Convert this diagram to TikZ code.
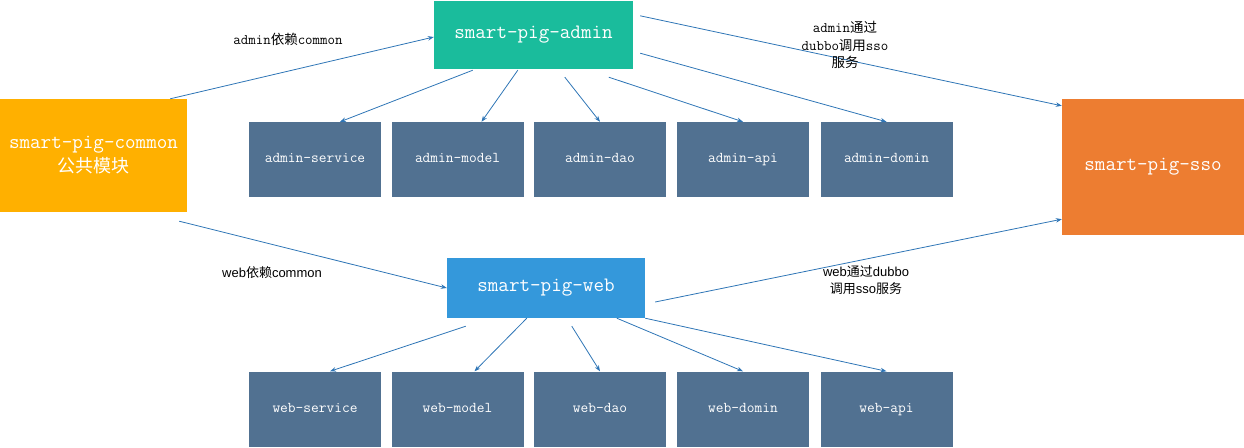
\documentclass[tikz,border=0pt]{standalone}
\usepackage{fontspec}
\setsansfont{Liberation Sans}
\newfontfamily\cjk{Noto Sans CJK SC}
\usetikzlibrary{arrows.meta}

\definecolor{admingreen}{RGB}{26,188,156}
\definecolor{commonorange}{RGB}{255,176,0}
\definecolor{ssoorange}{RGB}{237,125,49}
\definecolor{webblue}{RGB}{52,152,219}
\definecolor{partblue}{RGB}{81,113,145}
\definecolor{linkblue}{RGB}{46,117,182}

\begin{document}
\begin{tikzpicture}[x=1pt,y=-1pt,
  box/.style={text=white, inner sep=0pt, align=center, font=\ttfamily\fontsize{20.5}{24}\selectfont},
  part/.style={text=white, inner sep=0pt, fill=partblue, minimum width=132pt, minimum height=75pt,
    text height=0.75em, text depth=0.15em, font=\ttfamily\fontsize{15}{17}\selectfont},
  link/.style={draw=linkblue, line width=0.8pt, -{Stealth[length=6pt,width=4.5pt]}},
  note/.style={inner sep=0pt, align=center, font=\ttfamily\fontsize{14.5}{17.5}\selectfont}]

  \useasboundingbox (0,0) rectangle (1244,447);

  % Main modules
  \node[box, fill=admingreen, minimum width=199pt, minimum height=68pt] (admin) at (533.5,35) {smart-pig-admin};
  \node[box, fill=commonorange, minimum width=187pt, minimum height=113pt] (common) at (93.5,155.5) {smart-pig-common\\{\cjk\fontsize{18}{24}\selectfont 公共模块}};
  \node[box, fill=ssoorange, minimum width=182pt, minimum height=136pt] (sso) at (1153,167) {smart-pig-sso};
  \node[box, fill=webblue, minimum width=198pt, minimum height=60pt] (web) at (546,288) {smart-pig-web};

  % Sub modules
  \foreach \name/\x in {service/315, model/457.5, dao/600, api/743, domin/886.5}
    \node[part] (admin-\name) at (\x,159.5) {admin-\name};
  \foreach \name/\x in {service/315, model/457.5, dao/600, domin/743, api/886.5}
    \node[part] (web-\name) at (\x,409) {web-\name};

  % Dependencies between main modules
  \draw[link] ([shift={(-17,0)}]common.north east) -- ([shift={(0,2)}]admin.west);
  \draw[link] ([shift={(-8,9)}]common.south east) -- (web.west);
  \draw[link] ([shift={(7,15)}]admin.north east) -- ([shift={(0,7)}]sso.north west);
  \draw[link] ([shift={(10,14)}]web.east) -- ([shift={(0,-16)}]sso.south west);

  % admin to its parts
  \draw[link] ([shift={(39,1)}]admin.south west) -- ([shift={(25,0)}]admin-service.north);
  \draw[link] ([shift={(84,1)}]admin.south west) -- ([shift={(24,0)}]admin-model.north);
  \draw[link] ([shift={(131,8)}]admin.south west) -- (admin-dao.north);
  \draw[link] ([shift={(175,8)}]admin.south west) -- (admin-api.north);
  \draw[link] ([shift={(7,-16)}]admin.south east) -- (admin-domin.north);

  % web to its parts
  \draw[link] ([shift={(19,8)}]web.south west) -- ([shift={(15,0)}]web-service.north);
  \draw[link] ([shift={(80,0)}]web.south west) -- ([shift={(17,0)}]web-model.north);
  \draw[link] ([shift={(125,8)}]web.south west) -- (web-dao.north);
  \draw[link] ([shift={(170,0)}]web.south west) -- (web-domin.north);
  \draw[link] (web.south east) -- (web-api.north);

  % Labels
  \node[note] (common-admin) at (288,39) {admin{\cjk\fontsize{13.5}{17}\selectfont 依赖}common};
  \node[note] (admin-sso) at (845,45) {admin{\cjk\fontsize{13.5}{17}\selectfont 通过}\\dubbo{\cjk\fontsize{13.5}{17}\selectfont 调用}sso\\{\cjk\fontsize{13.5}{17}\selectfont 服务}};
  \node[note, font=\sffamily\fontsize{13}{17}\selectfont] (common-web) at (272,273) {web{\cjk 依赖}common};
  \node[note, font=\sffamily\fontsize{13}{17}\selectfont] (web-sso) at (866,280) {web{\cjk 通过}dubbo\\{\cjk 调用}sso{\cjk 服务}};

\end{tikzpicture}
\end{document}
